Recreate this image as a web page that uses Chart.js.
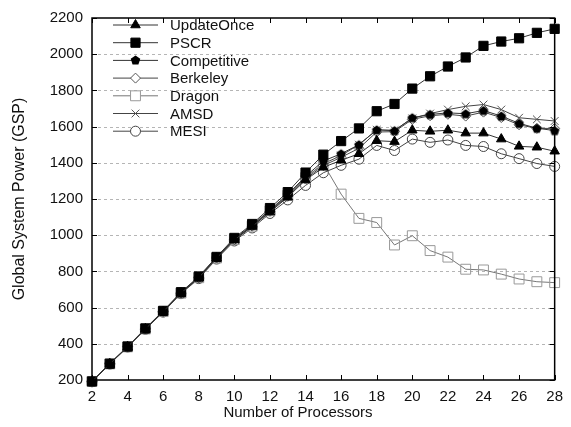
<!DOCTYPE html>
<html>
<head>
<meta charset="utf-8">
<script src="https://cdn.jsdelivr.net/npm/chart.js@4.4.0/dist/chart.umd.min.js"></script>
<style>
html, body { margin: 0; padding: 0; background: #fff; }
#wrap { width: 571px; height: 427px; }
</style>
</head>
<body>
<div id="wrap"><canvas id="gsp"></canvas></div>
<script>
// values
const processors = [2,3,4,5,6,7,8,9,10,11,12,13,14,15,16,17,18,19,20,21,22,23,24,25,26,27,28];
const updateOnce  = [192,289,383,482,578,680,765,873,974,1048,1128,1210,1305,1375,1414,1450,1522,1517,1580,1574,1580,1564,1564,1531,1491,1486,1464];
const pscr        = [192,290,385,485,582,685,772,880,985,1062,1150,1238,1346,1445,1520,1590,1685,1725,1810,1878,1932,1982,2046,2070,2088,2118,2140];
const competitive = [192,290,385,483,580,683,768,878,980,1055,1140,1225,1325,1410,1450,1500,1582,1577,1649,1667,1676,1671,1689,1658,1618,1591,1578];
const berkeley    = [192,290,384,482,578,680,765,874,975,1050,1132,1215,1310,1385,1430,1480,1570,1572,1640,1660,1668,1658,1680,1650,1610,1590,1590];
const dragon      = [192,289,383,482,578,680,765,874,976,1050,1135,1220,1318,1395,1227,1093,1070,946,997,915,879,812,808,785,758,743,738];
const amsd        = [192,290,384,483,580,682,767,876,978,1052,1136,1220,1318,1395,1440,1500,1582,1580,1645,1672,1694,1712,1722,1694,1649,1640,1631];
const mesi        = [190,288,382,480,575,677,760,868,968,1040,1120,1195,1275,1345,1386,1420,1496,1468,1531,1513,1526,1496,1490,1450,1423,1396,1380];
const xTicks = [2,4,6,8,10,12,14,16,18,20,22,24,26,28];
const yTicks = [200,400,600,800,1000,1200,1400,1600,1800,2000,2200];

const FONT = '"Liberation Sans", Arial, Helvetica, sans-serif';

// draws one marker shape, used for the legend samples and the pentagon image
function drawMarker(ctx, kind, x, y, r, fill, stroke) {
    ctx.beginPath();
    if (kind === 'triangle') {
        for (let i = 0; i < 3; i++) {
            const a = -Math.PI / 2 + i * 2 * Math.PI / 3;
            const px = x + Math.cos(a) * r, py = y + Math.sin(a) * r;
            i ? ctx.lineTo(px, py) : ctx.moveTo(px, py);
        }
        ctx.closePath();
    } else if (kind === 'pentagon') {
        for (let i = 0; i < 5; i++) {
            const a = -Math.PI / 2 + i * 2 * Math.PI / 5;
            const px = x + Math.cos(a) * r, py = y + Math.sin(a) * r;
            i ? ctx.lineTo(px, py) : ctx.moveTo(px, py);
        }
        ctx.closePath();
    } else if (kind === 'rect') {
        const s = r * Math.SQRT1_2;
        ctx.rect(x - s, y - s, 2 * s, 2 * s);
    } else if (kind === 'rectRot') {
        ctx.moveTo(x, y - r); ctx.lineTo(x + r, y); ctx.lineTo(x, y + r); ctx.lineTo(x - r, y);
        ctx.closePath();
    } else if (kind === 'crossRot') {
        const s = r * Math.SQRT1_2;
        ctx.moveTo(x - s, y - s); ctx.lineTo(x + s, y + s);
        ctx.moveTo(x + s, y - s); ctx.lineTo(x - s, y + s);
    } else if (kind === 'circle') {
        ctx.arc(x, y, r, 0, Math.PI * 2);
    }
    if (fill && kind !== 'crossRot') { ctx.fillStyle = fill; ctx.fill(); }
    if (stroke) { ctx.strokeStyle = stroke; ctx.lineWidth = 1; ctx.stroke(); }
}

function pentagonImage(r) {
    const c = document.createElement('canvas');
    const s = Math.ceil(r * 2 + 2);
    c.width = s; c.height = s;
    drawMarker(c.getContext('2d'), 'pentagon', s / 2, s / 2 + 0.5, r, '#000', null);
    return c;
}

const seriesDefs = [
    { label: 'UpdateOnce',  values: updateOnce,  kind: 'triangle', r: 5.5, fill: '#000', edge: '#000', line: '#333' },
    { label: 'PSCR',        values: pscr,        kind: 'rect',     r: 6.5, fill: '#000', edge: '#000', line: '#333' },
    { label: 'Competitive', values: competitive, kind: 'pentagon', r: 5,   fill: '#000', edge: '#000', line: '#333' },
    { label: 'Berkeley',    values: berkeley,    kind: 'rectRot',  r: 5,   fill: 'rgba(0,0,0,0)', edge: '#555', line: '#444' },
    { label: 'Dragon',      values: dragon,      kind: 'rect',     r: 7,   fill: 'rgba(0,0,0,0)', edge: '#999', line: '#777' },
    { label: 'AMSD',        values: amsd,        kind: 'crossRot', r: 5.5, fill: 'rgba(0,0,0,0)', edge: '#555', line: '#444' },
    { label: 'MESI',        values: mesi,        kind: 'circle',   r: 5,   fill: 'rgba(0,0,0,0)', edge: '#444', line: '#444' }
];

const datasets = seriesDefs.map(s => ({
    label: s.label,
    data: processors.map((p, i) => ({ x: p, y: s.values[i] })),
    borderColor: s.line,
    borderWidth: 1,
    pointStyle: s.kind === 'pentagon' ? pentagonImage(s.r) : s.kind,
    pointRadius: s.r,
    pointBackgroundColor: s.fill,
    pointBorderColor: s.edge,
    pointBorderWidth: 1,
    tension: 0,
    clip: false
}));

const framePlugin = {
    id: 'frame',
    beforeDatasetsDraw(chart) {
        const { ctx, chartArea: a, scales } = chart;
        ctx.save();
        ctx.strokeStyle = '#b5b5b5';
        ctx.lineWidth = 1;
        ctx.setLineDash([3, 3]);
        yTicks.slice(1, -1).forEach(v => {
            const y = Math.round(scales.y.getPixelForValue(v)) + 0.5;
            ctx.beginPath(); ctx.moveTo(a.left, y); ctx.lineTo(a.right, y); ctx.stroke();
        });
        ctx.restore();
    },
    afterDatasetsDraw(chart) {
        const { ctx, chartArea: a, scales } = chart;
        ctx.save();
        ctx.strokeStyle = '#000';
        ctx.lineWidth = 1;
        const t = 5;
        xTicks.forEach(v => {
            const x = Math.round(scales.x.getPixelForValue(v)) + 0.5;
            ctx.beginPath();
            ctx.moveTo(x, a.bottom); ctx.lineTo(x, a.bottom - t);
            ctx.moveTo(x, a.top); ctx.lineTo(x, a.top + t);
            ctx.stroke();
        });
        yTicks.forEach(v => {
            const y = Math.round(scales.y.getPixelForValue(v)) + 0.5;
            ctx.beginPath();
            ctx.moveTo(a.left, y); ctx.lineTo(a.left + t, y);
            ctx.moveTo(a.right, y); ctx.lineTo(a.right - t, y);
            ctx.stroke();
        });
        ctx.lineWidth = 1.5;
        ctx.strokeRect(a.left, a.top, a.right - a.left, a.bottom - a.top);

        // legend: line with marker in the middle, then the name
        ctx.font = '15px ' + FONT;
        ctx.textBaseline = 'middle';
        ctx.textAlign = 'left';
        seriesDefs.forEach((s, i) => {
            const y = 25 + i * 17.7;
            ctx.lineWidth = 1;
            ctx.strokeStyle = s.line;
            ctx.beginPath(); ctx.moveTo(113, y); ctx.lineTo(158, y); ctx.stroke();
            drawMarker(ctx, s.kind, 135.5, y, s.r, s.fill === 'rgba(0,0,0,0)' ? '#fff' : s.fill, s.kind === 'pentagon' ? null : s.edge);
            ctx.fillStyle = '#111';
            ctx.fillText(s.label, 170, y + 1);
        });

        // axis titles
        ctx.fillStyle = '#111';
        ctx.textAlign = 'center';
        ctx.fillText('Number of Processors', 298, 413);
        ctx.translate(20, (a.top + a.bottom) / 2);
        ctx.rotate(-Math.PI / 2);
        ctx.font = '16px ' + FONT;
        ctx.fillText('Global System Power (GSP)', 0, 0);
        ctx.restore();
    }
};

new Chart(document.getElementById('gsp'), {
    type: 'line',
    data: { datasets },
    options: {
        responsive: true,
        maintainAspectRatio: false,
        animation: false,
        layout: { padding: { top: 12, right: 11, left: 0, bottom: 0 } },
        plugins: { legend: { display: false }, tooltip: { enabled: false } },
        scales: {
            x: {
                type: 'linear',
                min: 2, max: 28,
                afterBuildTicks: s => { s.ticks = xTicks.map(v => ({ value: v })); },
                afterFit: s => { s.height = 47; },
                grid: { display: false, drawTicks: false },
                border: { display: false },
                ticks: { font: { family: FONT, size: 15 }, color: '#111', padding: 8, maxRotation: 0, callback: v => String(v) }
            },
            y: {
                min: 200, max: 2200,
                afterBuildTicks: s => { s.ticks = yTicks.map(v => ({ value: v })); },
                afterFit: s => { s.width = 92; },
                grid: { display: false, drawTicks: false },
                border: { display: false },
                ticks: { font: { family: FONT, size: 15 }, color: '#111', padding: 9, callback: v => String(v) }
            }
        }
    },
    plugins: [framePlugin]
});
</script>
</body>
</html>
